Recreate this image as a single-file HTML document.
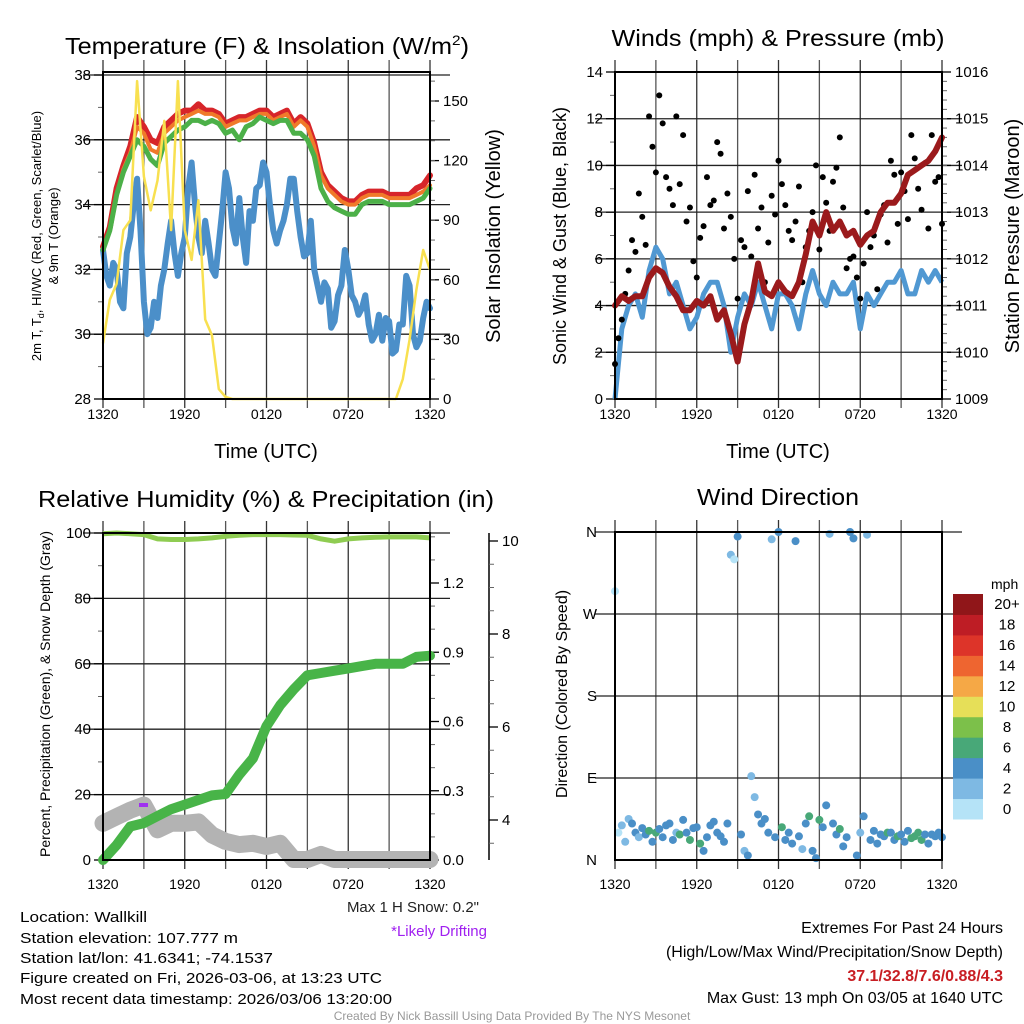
<!DOCTYPE html>
<html><head><meta charset="utf-8">
<style>
html,body{margin:0;padding:0;background:#fff;}
svg{display:block;font-family:"Liberation Sans",sans-serif;}
</style></head>
<body>
<svg id="fig" width="1024" height="1024" viewBox="0 0 1024 1024" xmlns="http://www.w3.org/2000/svg">
<rect x="0" y="0" width="1024" height="1024" fill="#fff"/>
<g id="p1"></g>
<g id="p2"></g>
<g id="p3"></g>
<g id="p4"></g>

<text x="267" y="54" font-size="23" text-anchor="middle" textLength="404" lengthAdjust="spacingAndGlyphs">Temperature (F) &amp; Insolation (W/m<tspan font-size="14" dy="-9">2</tspan><tspan dy="9">)</tspan></text>
<text x="778" y="46" font-size="23" text-anchor="middle" textLength="333" lengthAdjust="spacingAndGlyphs">Winds (mph) &amp; Pressure (mb)</text>
<text x="266" y="507" font-size="23" text-anchor="middle" textLength="456" lengthAdjust="spacingAndGlyphs">Relative Humidity (%) &amp; Precipitation (in)</text>
<text x="778" y="505" font-size="23" text-anchor="middle" textLength="162" lengthAdjust="spacingAndGlyphs">Wind Direction</text>

<text x="266" y="458" font-size="20" text-anchor="middle">Time (UTC)</text>
<text x="778" y="458" font-size="20" text-anchor="middle">Time (UTC)</text>

<text transform="translate(41,236) rotate(-90)" font-size="13" text-anchor="middle">2m T, T<tspan font-size="9" dy="3">d</tspan><tspan dy="-3">, HI/WC (Red, Green, Scarlet/Blue)</tspan></text>
<text transform="translate(58,236) rotate(-90)" font-size="13" text-anchor="middle">&amp; 9m T (Orange)</text>
<text transform="translate(500,236) rotate(-90)" font-size="20" text-anchor="middle">Solar Insolation (Yellow)</text>
<text transform="translate(566,236) rotate(-90)" font-size="18" text-anchor="middle">Sonic Wind &amp; Gust (Blue, Black)</text>
<text transform="translate(1019,236) rotate(-90)" font-size="20" text-anchor="middle">Station Pressure (Maroon)</text>
<text transform="translate(50,694) rotate(-90)" font-size="14" text-anchor="middle">Percent, Precipitation (Green), &amp; Snow Depth (Gray)</text>
<text transform="translate(567,694) rotate(-90)" font-size="16" text-anchor="middle">Direction (Colored By Speed)</text>

<g font-size="15" fill="#000">
<text x="20" y="922" textLength="127" lengthAdjust="spacingAndGlyphs">Location: Wallkill</text>
<text x="20" y="943" textLength="218" lengthAdjust="spacingAndGlyphs">Station elevation: 107.777 m</text>
<text x="20" y="963" textLength="253" lengthAdjust="spacingAndGlyphs">Station lat/lon: 41.6341; -74.1537</text>
<text x="20" y="983" textLength="362" lengthAdjust="spacingAndGlyphs">Figure created on Fri, 2026-03-06, at 13:23 UTC</text>
<text x="20" y="1004" textLength="372" lengthAdjust="spacingAndGlyphs">Most recent data timestamp: 2026/03/06 13:20:00</text>
</g>
<text x="479" y="912" font-size="15" fill="#222" text-anchor="end">Max 1 H Snow: 0.2"</text>
<text x="487" y="936" font-size="15" fill="#a020f0" text-anchor="end">*Likely Drifting</text>
<text x="1003" y="933" font-size="16" text-anchor="end">Extremes For Past 24 Hours</text>
<text x="1003" y="957" font-size="16" text-anchor="end">(High/Low/Max Wind/Precipitation/Snow Depth)</text>
<text x="1003" y="981" font-size="16" font-weight="bold" fill="#c81e23" text-anchor="end">37.1/32.8/7.6/0.88/4.3</text>
<text x="1003" y="1003" font-size="16" text-anchor="end">Max Gust: 13 mph On 03/05 at 1640 UTC</text>
<text x="512" y="1020" font-size="12" fill="#999" text-anchor="middle">Created By Nick Bassill Using Data Provided By The NYS Mesonet</text>
</svg>

<script>
// ---------- data ----------
const xTickLabels = ["1320","1920","0120","0720","1320"];
const tempRed = [32.7,33.3,34.5,35.2,35.8,36.7,36.4,36.0,35.9,36.4,36.6,36.8,36.9,36.9,37.1,36.9,36.9,36.8,36.5,36.6,36.7,36.7,36.8,36.9,36.9,36.7,36.8,36.9,36.5,36.7,36.5,35.9,35.0,34.6,34.4,34.2,34.1,34.1,34.3,34.4,34.4,34.4,34.3,34.3,34.3,34.3,34.5,34.6,34.9];
const tempOrange = [32.6,33.2,34.3,35.1,35.6,36.4,36.2,35.7,35.6,36.2,36.4,36.6,36.7,36.8,36.9,36.8,36.8,36.7,36.4,36.5,36.6,36.6,36.7,36.8,36.8,36.6,36.7,36.8,36.4,36.6,36.4,35.8,34.9,34.5,34.3,34.1,34.0,34.0,34.2,34.3,34.3,34.3,34.2,34.2,34.2,34.2,34.3,34.4,34.6];
const tempGreen = [32.6,33.2,34.3,35.0,35.5,36.0,35.8,35.4,35.2,35.9,36.1,36.3,36.4,36.6,36.6,36.5,36.6,36.5,36.2,36.3,36.0,36.4,36.5,36.7,36.6,36.5,36.6,36.6,36.2,36.2,36.0,35.5,34.5,34.1,33.9,33.8,33.7,33.7,34.0,34.1,34.1,34.1,34.0,34.0,34.0,34.0,34.1,34.2,34.5];
const dewBlue = [32.6,31.8,31.5,32.2,32.0,31.0,30.8,32.5,33.0,34.0,34.8,33.2,31.0,30.0,30.2,31.0,30.5,31.5,32.0,32.8,33.5,32.5,31.8,32.5,33.0,34.5,35.3,34.0,33.0,32.5,33.5,32.8,32.0,31.8,32.8,33.8,35.0,34.5,33.3,32.8,34.2,33.0,32.2,33.8,33.5,34.5,34.6,35.3,35.0,34.0,33.2,32.8,33.2,33.5,34.0,34.8,34.8,33.8,33.0,32.4,32.5,33.5,32.0,31.5,31.0,31.6,31.4,30.2,30.4,31.2,31.5,32.6,32.0,31.2,31.0,30.6,30.8,31.2,30.3,29.8,30.0,30.6,29.8,30.5,30.4,29.4,29.5,30.3,30.3,31.8,31.5,30.0,29.6,29.8,30.5,31.0,30.8];
const solar = [28,50,58,85,90,160,112,95,110,140,85,160,85,70,100,40,32,5,1,0,0,0,0,0,0,0,0,0,0,0,0,0,0,0,0,0,0,0,0,0,0,0,0,0,10,30,55,75,65];
const windSpeed = [0,3,4,4.5,3.5,5.5,6.5,6,4.5,5,4,3,3.5,4.5,5,5,4,2,3.5,4.5,4,5,4,3,4.5,4.5,4,3,4.5,5.5,4.5,4,5,4.5,4.5,5,3,4.5,4,4.5,5,5,5.5,4.5,4.5,5.5,5,5.5,5];
const pressure = [1011.0,1011.2,1011.1,1011.2,1011.2,1011.6,1011.8,1011.7,1011.4,1011.2,1010.9,1010.9,1011.1,1011.0,1011.2,1010.7,1010.9,1010.4,1009.8,1010.6,1011.1,1011.9,1011.3,1011.2,1011.5,1011.3,1011.2,1011.5,1012.1,1012.8,1012.5,1013.0,1012.6,1012.8,1012.5,1012.6,1012.3,1012.5,1012.6,1013.0,1013.2,1013.2,1013.4,1013.8,1013.9,1014.0,1014.1,1014.3,1014.6];
const gusts = [1.5,2.6,3.4,4.5, 5.5,6.8,6.3,8.8, 7.8,6.6,12.1,10.8, 9.7,13.0,11.8,9.5, 9.0,8.3,12.1,9.2, 11.3,7.6,8.2,5.9, 5.2,6.9,7.4,9.5, 8.3,8.5,11.0,10.5, 7.3,8.8,7.8,6.0, 4.3,6.8,6.5,8.9, 6.1,9.6,7.3,8.2, 5.0,6.7,8.7,7.9, 10.2,9.2,8.3,7.2, 6.8,7.6,9.1,5.0, 6.5,7.2,8.0,10.0, 6.4,9.5,8.4,7.2, 9.3,9.9,11.2,8.2, 5.6,6.0,6.1,5.2, 4.3,5.8,8.0,6.5, 7.0,4.7,7.9,8.3, 6.7,10.2,9.6,7.5, 9.7,8.9,7.7,11.3, 10.3,9.0,8.1,10.1, 7.3,11.3,9.3,9.5, 7.5];
const rh = [99.8,100,99.8,99.5,98.2,98.0,98.0,98.2,98.5,99.0,99.3,99.5,99.5,99.5,99.4,99.3,98.2,97.5,98.2,98.5,98.7,98.8,98.8,98.8,98.5];
const precip = [0,0.065,0.145,0.16,0.19,0.22,0.24,0.26,0.28,0.286,0.37,0.44,0.58,0.67,0.74,0.80,0.81,0.82,0.83,0.84,0.85,0.85,0.85,0.88,0.885];
const snowDepth = [3.93,4.07,4.21,4.32,3.79,3.93,3.93,3.96,3.68,3.54,3.47,3.50,3.43,3.50,3.15,3.15,3.26,3.15,3.15,3.15,3.15,3.15,3.15,3.15,3.15];
const windDir = [295,30,38,20, 45,40,30,25, 35,28,32,20, 30,34,25,38, 40,22,30,28, 44,30,22,35, 36,18,10,25, 38,42,30,26, 20,40,335,330, 355,28,10,5, 92,69,50,40, 45,30,352,25, 360,36,22,30, 18,350,26,12, 40,48,10,2, 44,36,60,358, 40,28,34,15, 25,360,353,5, 30,48,357,22, 32,18,28,26, 30,30,22,26, 28,20,32,24, 26,30,22,28, 18,28,26,30, 25];
const dirSpeed = [1,1,2,2, 3,4,4,3, 4,5,6,5, 6,4,5,4, 4,5,3,6, 4,5,6,4, 4,6,5,4, 5,4,5,4, 4,5,2,1, 4,4,2,4, 2,3,4,4, 5,4,2,4, 4,6,5,4, 5,4,4,3, 4,6,4,4, 6,4,4,2, 4,4,6,4, 4,4,4,4, 3,4,2,4, 4,5,4,4, 6,4,5,6, 5,4,4,6, 6,7,6,4, 5,4,4,4, 4];
const speedBins = ["0","2","4","6","8","10","12","14","16","18","20+"];
const binColors = ["#b5e3f7","#7eb9e3","#4a8fc7","#48a878","#7cc04a","#e6df58","#f5a846","#ee6530","#dd3429","#be1d25","#901619"];

// ---------- helpers ----------
const NS="http://www.w3.org/2000/svg";
function mk(parent,tag,attrs){const e=document.createElementNS(NS,tag);for(const k in attrs)e.setAttribute(k,attrs[k]);parent.appendChild(e);return e;}
const X0=103,X1=430;
function xs(off){return h=>off+X0+(h/24)*(X1-X0);}
function lin(v0,v1,p0,p1){return v=>p0+(v-v0)/(v1-v0)*(p1-p0);}
function pathFrom(arr,step,x,y){return arr.map((v,i)=>(i?'L':'M')+x(i*step).toFixed(1)+','+y(v).toFixed(1)).join('');}

function frame(g,off,top,bot,hLines,labY){
  const x=xs(off);
  for(let k=0;k<=8;k++){
    const px=x(k*3);
    const l=mk(g,'line',{x1:px,x2:px,y1:top-12,y2:bot+9,stroke:k%2?'#555':'#333','stroke-width':1.3});
    
    
  }
  hLines.forEach(py=>{
    const l=mk(g,'line',{x1:off+X0-20,x2:off+X1+20,y1:py,y2:py,stroke:'#222','stroke-width':1.3});
    
    
  });
  xTickLabels.forEach((t,i)=>{
    const tx=mk(g,'text',{x:x(i*6),y:labY,'font-size':14,'text-anchor':'middle'});
    tx.textContent=t;
    
    
  });
}
function border(g,off,top,bot){
  const r=mk(g,'rect',{x:off+X0,y:top,width:X1-X0,height:bot-top,fill:'none',stroke:'#000','stroke-width':2});
  
  
}
function yAxis(g,px,ticks,minor,scale,fmt,side,name){
  ticks.forEach(v=>{
    const py=scale(v);
    mk(g,'line',{x1:px,x2:px+(side<0?-9:9),y1:py,y2:py,stroke:'#000','stroke-width':1.3});
    const t=mk(g,'text',{x:px+(side<0?-12:13),y:py+5,'font-size':15,'text-anchor':side<0?'end':'start'});
    t.textContent=fmt(v);
    
    
  });
  minor.forEach(v=>{const py=scale(v);mk(g,'line',{x1:px,x2:px+(side<0?-5:5),y1:py,y2:py,stroke:'#666','stroke-width':1});});
}
function range(a,b,s){const r=[];for(let v=a;v<=b+1e-9;v+=s)r.push(+v.toFixed(3));return r;}

// ---------- Panel 1 ----------
(function(){
  const g=document.getElementById('p1');
  const top=72,bot=399,x=xs(0);
  const yT=lin(28,38,399,75), yS=lin(0,150,399,101);
  frame(g,0,top,bot,[yT(30),yT(32),yT(34),yT(36),yT(38)],419);
  yAxis(g,X0,range(28,38,2),range(29,37,2),yT,v=>v,-1,'temp-y-tick');
  yAxis(g,X1,range(0,150,30),range(10,160,10),yS,v=>v,1,'solar-y-tick');
  const dp=mk(g,'path',{d:pathFrom(dewBlue,0.25,x,yT),fill:'none',stroke:'#4b8fc9','stroke-width':6,'stroke-linejoin':'round','stroke-linecap':'round'});
  
  
  const series=[[tempRed,'#d7252a',6,'temperature-line'],[tempOrange,'#f07a2a',4,'temperature-9m-line'],[tempGreen,'#4cb048',5,'heat-index-line']];
  series.forEach(s=>{
    const p=mk(g,'path',{d:pathFrom(s[0],0.5,x,yT),fill:'none',stroke:s[1],'stroke-width':s[2],'stroke-linejoin':'round','stroke-linecap':'round'});
    
    
  });
  const sp=mk(g,'path',{d:pathFrom(solar,0.5,x,yS),fill:'none',stroke:'#f8e050','stroke-width':2.5,'stroke-linejoin':'round'});
  
  
  border(g,0,top,bot);
})();

// ---------- Panel 2 ----------
(function(){
  const g=document.getElementById('p2');
  const off=512,top=72,bot=399,x=xs(off);
  const yW=lin(0,14,399,72), yP=lin(1009,1016,399,72);
  frame(g,off,top,bot,range(2,12,2).map(yW),419);
  yAxis(g,off+X0,range(0,14,2),range(1,13,2),yW,v=>v,-1,'wind-y-tick');
  yAxis(g,off+X1,range(1009,1016,1),range(1009.2,1015.8,0.2),yP,v=>v,1,'pressure-y-tick');
  const wp=mk(g,'path',{d:pathFrom(windSpeed,0.5,x,yW),fill:'none',stroke:'#5098d2','stroke-width':5,'stroke-linejoin':'round'});
  
  
  gusts.forEach((v,i)=>{
    const c=mk(g,'circle',{cx:x(i*0.25),cy:yW(v),r:3,fill:'#000'});
    
    
  });
  const pp=mk(g,'path',{d:pathFrom(pressure,0.5,x,yP),fill:'none',stroke:'#9b1a1c','stroke-width':6,'stroke-linejoin':'round','stroke-linecap':'round'});
  
  
  border(g,off,top,bot);
})();

// ---------- Panel 3 ----------
(function(){
  const g=document.getElementById('p3');
  const top=533,bot=860,x=xs(0);
  const yR=lin(0,100,860,533), yPr=lin(0,1.2,860,583), ySn=lin(4,8,820,634);
  frame(g,0,top,bot,range(20,100,20).map(yR),889);
  yAxis(g,X0,range(0,100,20),range(10,90,20),yR,v=>v,-1,'humidity-y-tick');
  yAxis(g,X1,range(0,1.2,0.3),range(0.1,1.4,0.1).filter(v=>Math.abs(v*10%3)>0.01),yPr,v=>v.toFixed(1),1,'precip-y-tick');
  const sa=mk(g,'line',{x1:489,x2:489,y1:533,y2:860,stroke:'#000','stroke-width':1.5});
  
  
  yAxis(g,489,[4,6,8,10],[3.5,4.5,5,5.5,6.5,7,7.5,8.5,9,9.5],ySn,v=>v,1,'snow-y-tick');
  const gp=mk(g,'path',{d:pathFrom(snowDepth,1,x,ySn),fill:'none',stroke:'#b3b3b3','stroke-width':17,'stroke-linejoin':'round','stroke-linecap':'round'});
  
  
  const pr=mk(g,'path',{d:pathFrom(precip,1,x,yPr),fill:'none',stroke:'#48b448','stroke-width':10,'stroke-linejoin':'round','stroke-linecap':'round'});
  
  
  const rp=mk(g,'path',{d:pathFrom(rh,1,x,yR),fill:'none',stroke:'#8fcc52','stroke-width':5,'stroke-linejoin':'round'});
  
  
  const dm=mk(g,'rect',{x:139,y:803,width:9,height:4,fill:'#a030f0'});
  
  
  border(g,0,top,bot);
})();

// ---------- Panel 4 ----------
(function(){
  const g=document.getElementById('p4');
  const off=512,top=532,bot=860,x=xs(off);
  const yD=lin(0,360,860,532);
  frame(g,off,top,bot,[yD(90),yD(180),yD(270),yD(360)],889);
  ["N","E","S","W","N"].forEach((t,i)=>{
    const tx=mk(g,'text',{x:597,y:yD(i*90)+5,'font-size':15,'text-anchor':'end'});
    tx.textContent=t;
    
    
  });
  windDir.forEach((d,i)=>{
    const b=Math.min(10,Math.floor(dirSpeed[i]/2));
    const c=mk(g,'circle',{cx:x(i*0.25),cy:yD(d),r:4,fill:binColors[b]});
    
    
  });
  border(g,off,top,bot);
  const cbTop=594,cbBot=819,h=(cbBot-cbTop)/speedBins.length;
  const ml=mk(g,'text',{x:991,y:589,'font-size':14});
  ml.textContent='mph';
  
  
  speedBins.forEach((lab,i)=>{
    const yy=cbBot-(i+1)*h;
    const r=mk(g,'rect',{x:953,y:yy,width:30,height:h+0.5,fill:binColors[i]});
    
    
    const t=mk(g,'text',{x:1007,y:yy+h/2+5,'font-size':15,'text-anchor':'middle'});
    t.textContent=lab;
    
    
  });
})();
</script>
</body></html>
